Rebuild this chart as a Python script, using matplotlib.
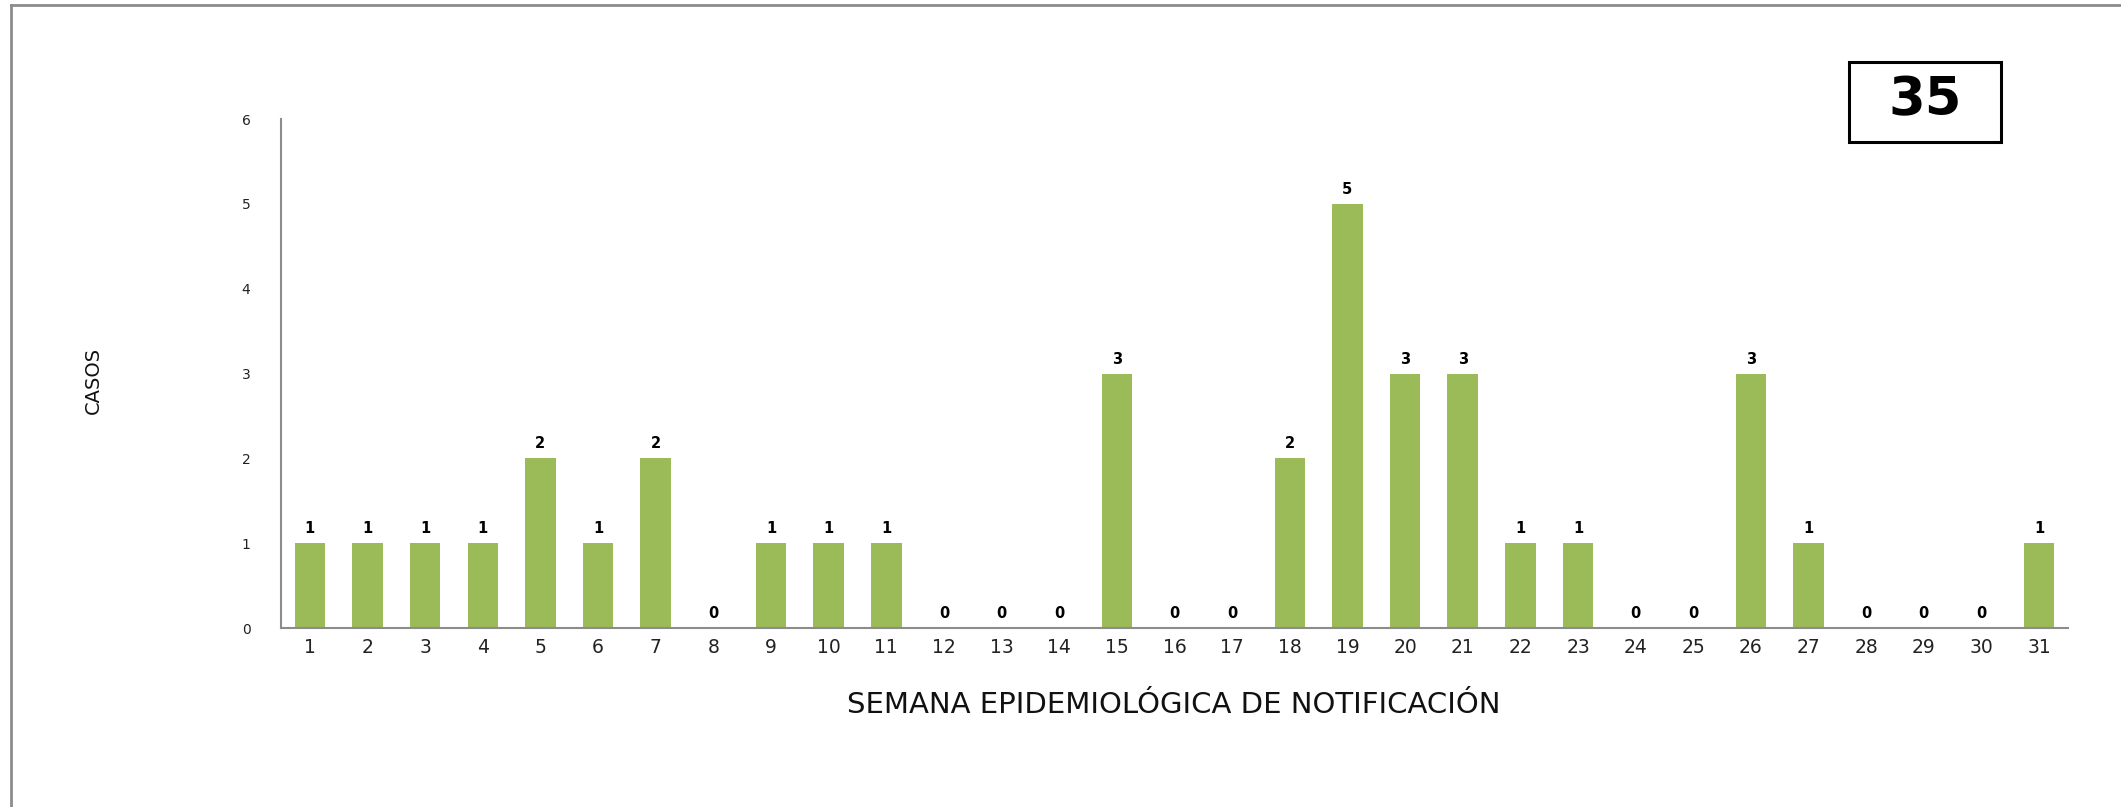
import matplotlib
matplotlib.use("Agg")
import matplotlib.pyplot as plt
from matplotlib.lines import Line2D
from matplotlib.patches import Rectangle

semanas = list(range(1, 32))
casos = [1, 1, 1, 1, 2, 1, 2, 0, 1, 1, 1, 0, 0, 0, 3, 0, 0, 2, 5, 3, 3, 1, 1, 0, 0, 3, 1, 0, 0, 0, 1]
total = sum(casos)

verde = '#9BBB59'
gris = '#8C8C8C'

fig = plt.figure(figsize=(21.21, 8.07), dpi=100)
ax = fig.add_axes([0.1325, 0.2218, 0.8425, 0.6307])

bars = ax.bar(semanas, casos, width=0.53, color=verde)
ax.bar_label(bars, labels=[str(c) for c in casos], padding=5,
             fontsize=10.5, fontweight='bold', color='black')

ax.set_xlim(0.5, 31.5)
ax.set_ylim(0, 6)
ax.set_xticks(semanas)
ax.set_xticklabels([str(s) for s in semanas], fontsize=13.5, color='#222222')
ax.set_yticks(range(0, 7))
ax.set_yticklabels([str(v) for v in range(0, 7)], fontsize=10, color='#222222')
ax.tick_params(axis='both', length=0)
ax.tick_params(axis='x', pad=7)
ax.tick_params(axis='y', pad=22)

for s in ['top', 'right']:
    ax.spines[s].set_visible(False)
for s in ['left', 'bottom']:
    ax.spines[s].set_color(gris)
    ax.spines[s].set_linewidth(1.5)

fig.text(0.044, 0.528, 'CASOS', rotation=90, ha='center', va='center',
         fontsize=14, family='DejaVu Sans', color='#111111')
fig.text(0.5535, 0.127, 'SEMANA EPIDEMIOLÓGICA DE NOTIFICACIÓN', ha='center', va='center',
         fontsize=21, color='#111111')

# recuadro con el total
fig.add_artist(Rectangle((0.8718, 0.824), 0.0717, 0.099, transform=fig.transFigure,
                         facecolor='white', edgecolor='black', linewidth=2.2))
fig.text(0.9077, 0.876, str(total), ha='center', va='center', fontsize=38,
         fontweight='bold', color='black')

# marco exterior (solo arriba y a la izquierda)
fig.add_artist(Line2D([0.0052, 0.0052], [0.0, 0.9938], transform=fig.transFigure, color=gris, linewidth=2))
fig.add_artist(Line2D([0.0052, 1.0], [0.9938, 0.9938], transform=fig.transFigure, color=gris, linewidth=2))

plt.savefig('out.png', dpi=100)
plt.close()
